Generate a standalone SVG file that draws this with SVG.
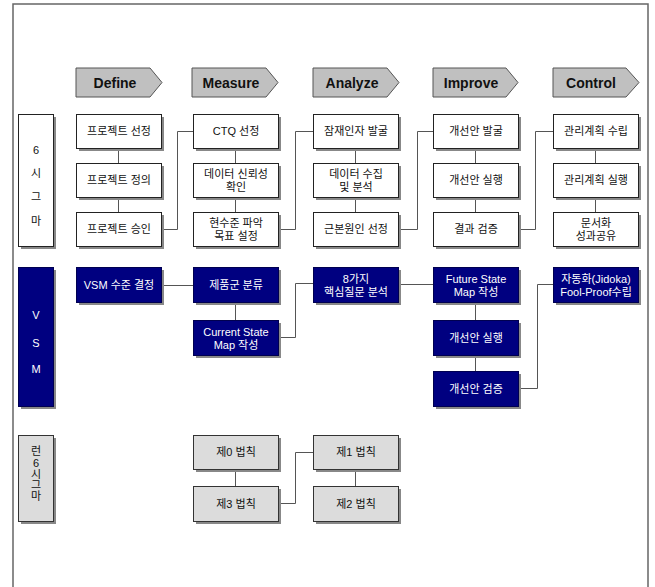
<svg xmlns="http://www.w3.org/2000/svg" width="655" height="587" viewBox="0 0 655 587">
<style>
.frame{fill:none;stroke:#666;stroke-width:1.5}
.arrow{fill:#c0c0c0;stroke:#555;stroke-width:1}
.ttl{font-family:"Liberation Sans",Arial,sans-serif;font-weight:bold;font-size:14px;fill:#111;text-anchor:middle}
.sh{fill:#888}
.w{fill:#fff;stroke:#222;stroke-width:1}
.n{fill:#000080;stroke:#000050;stroke-width:1}
.g{fill:#dcdcdc;stroke:#333;stroke-width:1}
.t{font-family:"Liberation Sans","Noto Sans CJK KR",sans-serif;font-size:11px;fill:#111;text-anchor:middle}
.tw{font-family:"Liberation Sans","Noto Sans CJK KR",sans-serif;font-size:11px;fill:#fff;text-anchor:middle}
.c{fill:none;stroke:#555;stroke-width:1}
</style>
<rect x="0" y="0" width="655" height="587" fill="#fff"/>
<path class="frame" d="M13,588 V4 H648 V588"/>

<g id="phases">
<g id="ph-define"><polygon class="arrow" points="76,68 150,68 162,82.5 150,97 76,97"/><text class="ttl" x="115" y="88">Define</text></g>
<g id="ph-measure"><polygon class="arrow" points="192,68 266,68 278,82.5 266,97 192,97"/><text class="ttl" x="231" y="88">Measure</text></g>
<g id="ph-analyze"><polygon class="arrow" points="313,68 387,68 399,82.5 387,97 313,97"/><text class="ttl" x="352" y="88">Analyze</text></g>
<g id="ph-improve"><polygon class="arrow" points="433,68 506,68 518,82.5 506,97 433,97"/><text class="ttl" x="471" y="88">Improve</text></g>
<g id="ph-control"><polygon class="arrow" points="553,68 626,68 639,82.5 626,97 553,97"/><text class="ttl" x="591" y="88">Control</text></g>
</g>

<g id="connectors">
<path class="c" d="M118.5,148V163M118.5,197V212"/>
<path class="c" d="M235.5,148V163M235.5,197V212"/>
<path class="c" d="M355.5,148V163M355.5,197V212"/>
<path class="c" d="M475.5,148V163M475.5,197V212"/>
<path class="c" d="M595.5,148V163M595.5,197V212"/>
<path class="c" d="M161,229.5H177.5V131.5H193"/>
<path class="c" d="M278,229.5H295.5V131.5H313"/>
<path class="c" d="M398,229.5H417.5V131.5H433"/>
<path class="c" d="M518,229.5H535.5V131.5H553"/>
<path class="c" d="M161,285.5H193"/>
<path class="c" d="M235.5,302V320"/>
<path class="c" d="M278,337.5H295.5V283.5H313"/>
<path class="c" d="M398,284.5H433"/>
<path class="c" d="M475.5,302V320M475.5,355V371"/>
<path class="c" d="M518,388.5H537.5V284.5H553"/>
<path class="c" d="M235.5,469V486"/>
<path class="c" d="M278,503.5H295.5V452.5H313"/>
<path class="c" d="M355.5,469V486"/>
</g>

<g id="lbl-6sigma"><rect class="sh" x="21" y="117" width="35" height="132"/><rect class="w" x="18.5" y="114.5" width="35" height="132"/>
<text class="t" x="36" y="154">6</text><text class="t" x="36" y="177">시</text><text class="t" x="36" y="201">그</text><text class="t" x="36" y="225">마</text></g>
<g id="lbl-vsm"><rect class="sh" x="21" y="270" width="35" height="139"/><rect class="n" x="18.5" y="267.5" width="35" height="139"/>
<text class="tw" x="36" y="319">V</text><text class="tw" x="36" y="347">S</text><text class="tw" x="36" y="373">M</text></g>
<g id="lbl-lean"><rect class="sh" x="21" y="438" width="35" height="86"/><rect class="g" x="18.5" y="435.5" width="35" height="86"/>
<text class="t" x="36" y="455">런</text><text class="t" x="36" y="467">6</text><text class="t" x="36" y="478">시</text><text class="t" x="36" y="489">그</text><text class="t" x="36" y="500">마</text></g>

<g id="d1"><rect class="sh" x="79" y="117" width="85" height="34"/><rect class="w" x="76.5" y="114.5" width="85" height="34"/><text class="t" x="119" y="135">프로젝트 선정</text></g>
<g id="d2"><rect class="sh" x="79" y="166" width="85" height="34"/><rect class="w" x="76.5" y="163.5" width="85" height="34"/><text class="t" x="119" y="184">프로젝트 정의</text></g>
<g id="d3"><rect class="sh" x="79" y="215" width="85" height="34"/><rect class="w" x="76.5" y="212.5" width="85" height="34"/><text class="t" x="119" y="233">프로젝트 승인</text></g>

<g id="m1"><rect class="sh" x="196" y="117" width="85" height="34"/><rect class="w" x="193.5" y="114.5" width="85" height="34"/><text class="t" x="236" y="135">CTQ 선정</text></g>
<g id="m2"><rect class="sh" x="196" y="166" width="85" height="34"/><rect class="w" x="193.5" y="163.5" width="85" height="34"/><text class="t" x="236" y="178">데이터 신뢰성</text><text class="t" x="236" y="191">확인</text></g>
<g id="m3"><rect class="sh" x="196" y="215" width="85" height="34"/><rect class="w" x="193.5" y="212.5" width="85" height="34"/><text class="t" x="236" y="227">현수준 파악</text><text class="t" x="236" y="240">목표 설정</text></g>

<g id="a1"><rect class="sh" x="316" y="117" width="85" height="34"/><rect class="w" x="313.5" y="114.5" width="85" height="34"/><text class="t" x="356" y="135">잠재인자 발굴</text></g>
<g id="a2"><rect class="sh" x="316" y="166" width="85" height="34"/><rect class="w" x="313.5" y="163.5" width="85" height="34"/><text class="t" x="356" y="178">데이터 수집</text><text class="t" x="356" y="191">및 분석</text></g>
<g id="a3"><rect class="sh" x="316" y="215" width="85" height="34"/><rect class="w" x="313.5" y="212.5" width="85" height="34"/><text class="t" x="356" y="233">근본원인 선정</text></g>

<g id="i1"><rect class="sh" x="436" y="117" width="85" height="34"/><rect class="w" x="433.5" y="114.5" width="85" height="34"/><text class="t" x="476" y="135">개선안 발굴</text></g>
<g id="i2"><rect class="sh" x="436" y="166" width="85" height="34"/><rect class="w" x="433.5" y="163.5" width="85" height="34"/><text class="t" x="476" y="184">개선안 실행</text></g>
<g id="i3"><rect class="sh" x="436" y="215" width="85" height="34"/><rect class="w" x="433.5" y="212.5" width="85" height="34"/><text class="t" x="476" y="233">결과 검증</text></g>

<g id="c1"><rect class="sh" x="556" y="117" width="85" height="34"/><rect class="w" x="553.5" y="114.5" width="85" height="34"/><text class="t" x="596" y="135">관리계획 수립</text></g>
<g id="c2"><rect class="sh" x="556" y="166" width="85" height="34"/><rect class="w" x="553.5" y="163.5" width="85" height="34"/><text class="t" x="596" y="184">관리계획 실행</text></g>
<g id="c3"><rect class="sh" x="556" y="215" width="85" height="34"/><rect class="w" x="553.5" y="212.5" width="85" height="34"/><text class="t" x="596" y="227">문서화</text><text class="t" x="596" y="240">성과공유</text></g>

<g id="v1"><rect class="sh" x="79" y="270" width="85" height="35"/><rect class="n" x="76.5" y="267.5" width="85" height="35"/><text class="tw" x="119" y="289">VSM 수준 결정</text></g>
<g id="v2"><rect class="sh" x="196" y="270" width="85" height="35"/><rect class="n" x="193.5" y="267.5" width="85" height="35"/><text class="tw" x="236" y="289">제품군 분류</text></g>
<g id="v3"><rect class="sh" x="196" y="323" width="85" height="35"/><rect class="n" x="193.5" y="320.5" width="85" height="35"/><text class="tw" x="236" y="336">Current State</text><text class="tw" x="236" y="349">Map 작성</text></g>
<g id="v4"><rect class="sh" x="316" y="270" width="85" height="35"/><rect class="n" x="313.5" y="267.5" width="85" height="35"/><text class="tw" x="356" y="283">8가지</text><text class="tw" x="356" y="296">핵심질문 분석</text></g>
<g id="v5"><rect class="sh" x="436" y="270" width="85" height="35"/><rect class="n" x="433.5" y="267.5" width="85" height="35"/><text class="tw" x="476" y="283">Future State</text><text class="tw" x="476" y="296">Map 작성</text></g>
<g id="v6"><rect class="sh" x="436" y="323" width="85" height="35"/><rect class="n" x="433.5" y="320.5" width="85" height="35"/><text class="tw" x="476" y="342">개선안 실행</text></g>
<g id="v7"><rect class="sh" x="436" y="374" width="85" height="35"/><rect class="n" x="433.5" y="371.5" width="85" height="35"/><text class="tw" x="476" y="393">개선안 검증</text></g>
<g id="v8"><rect class="sh" x="556" y="270" width="85" height="35"/><rect class="n" x="553.5" y="267.5" width="85" height="35"/><text class="tw" x="596" y="283">자동화(Jidoka)</text><text class="tw" x="596" y="296">Fool-Proof수립</text></g>

<g id="l0"><rect class="sh" x="196" y="438" width="85" height="34"/><rect class="g" x="193.5" y="435.5" width="85" height="34"/><text class="t" x="236" y="456">제0 법칙</text></g>
<g id="l3"><rect class="sh" x="196" y="489" width="85" height="35"/><rect class="g" x="193.5" y="486.5" width="85" height="35"/><text class="t" x="236" y="508">제3 법칙</text></g>
<g id="l1"><rect class="sh" x="316" y="438" width="85" height="34"/><rect class="g" x="313.5" y="435.5" width="85" height="34"/><text class="t" x="356" y="456">제1 법칙</text></g>
<g id="l2"><rect class="sh" x="316" y="489" width="85" height="35"/><rect class="g" x="313.5" y="486.5" width="85" height="35"/><text class="t" x="356" y="508">제2 법칙</text></g>
</svg>
